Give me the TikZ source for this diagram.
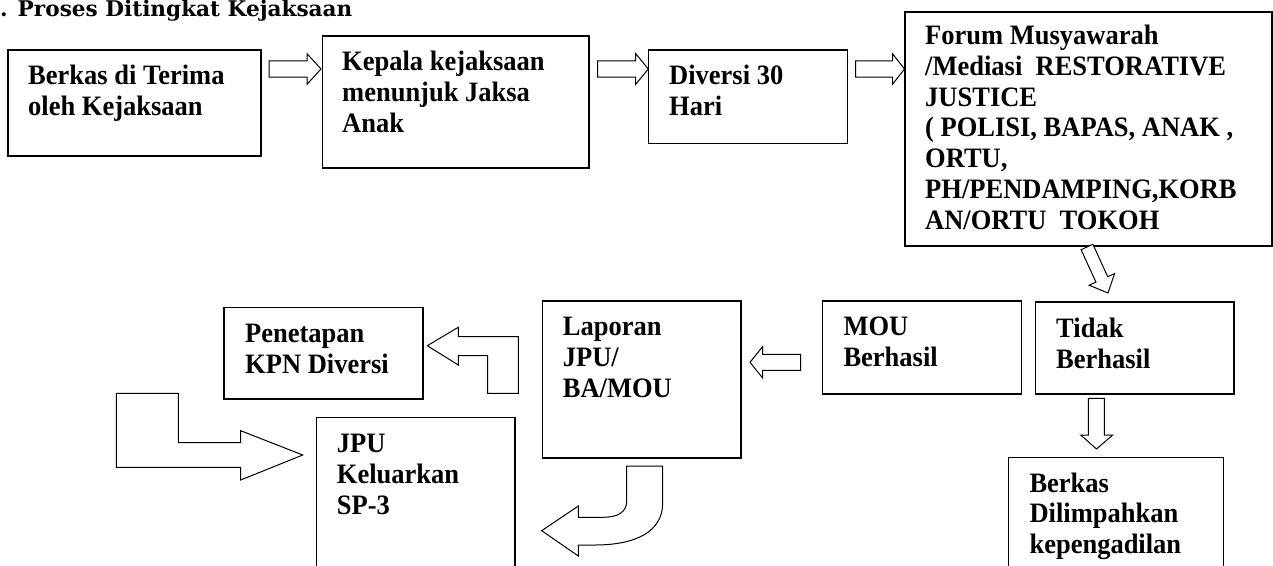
\documentclass[tikz,border=0pt]{standalone}
\usepackage{fontspec}
\setmainfont{Liberation Serif}
\newfontfamily\titlefont{DejaVu Serif}
\newcommand{\hblk}[6]{%
  \draw[blk] (#1,#4-#5) -- (#2,#4-#5) -- (#2,#4-#6) -- (#3,#4) -- (#2,#4+#6) -- (#2,#4+#5) -- (#1,#4+#5) -- cycle;}
\newcommand{\stx}[1]{\scalebox{1}[1.06]{\begin{tabular}[b]{@{}l@{}}#1\end{tabular}}}
\tikzset{
  box/.style={draw, line width=1.5pt, inner sep=0pt, anchor=north west},
  txt/.style={anchor=base west, inner sep=0pt, font=\fontsize{26.5}{29}\selectfont\bfseries},
  blk/.style={draw, line width=1pt, fill=white, line join=miter},
}
\begin{document}
\begin{tikzpicture}[x=1pt,y=-1pt]
\clip (0,0) rectangle (1273,565);
\fill[white] (0,0) rectangle (1273,565);
% title
\node[anchor=base west, inner sep=0pt] (title) at (0,16) {\titlefont\bfseries\fontsize{21.6}{24}\selectfont . Proses Ditingkat Kejaksaan};
% boxes
\node[box, minimum width=252.7pt, minimum height=106pt] (b1) at (7.3,49.3) {};
\node[box, minimum width=266.6pt, minimum height=132.3pt] (b2) at (321.7,35) {};
\node[box, minimum width=199pt, minimum height=93.7pt] (b3) at (647.7,49) {};
\node[box, minimum width=367pt, minimum height=234pt] (b4) at (904,11) {};
\node[box, minimum width=199pt, minimum height=93.3pt] (mou) at (821.7,300) {};
\node[box, minimum width=198.6pt, minimum height=92pt] (tidak) at (1034.7,301.3) {};
\node[box, minimum width=215pt, minimum height=143.3pt] (berkas) at (1007.7,456.7) {};
\node[box, minimum width=198.3pt, minimum height=157.3pt] (lap) at (541.7,300) {};
\node[box, minimum width=199pt, minimum height=91.6pt] (pen) at (223.3,306.7) {};
\node[box, minimum width=198.3pt, minimum height=183.3pt] (jpu) at (315.7,416.7) {};
% texts (anchor = baseline of last line)
\node[txt] (t1) at (28,115.7) {\stx{Berkas di Terima\\oleh Kejaksaan}};
\node[txt] (t2) at (342,132.4) {\stx{Kepala kejaksaan\\menunjuk Jaksa\\Anak}};
\node[txt] (t3) at (669,115) {\stx{Diversi 30\\Hari}};
\node[txt] (t4) at (925,229.2) {\stx{Forum Musyawarah\\/Mediasi\ \ RESTORATIVE\\JUSTICE\\( POLISI, BAPAS, ANAK ,\\ORTU,\\PH/PENDAMPING,KORB\\AN/ORTU\ \ TOKOH}};
\node[txt] (t5) at (843.3,366.7) {\stx{MOU\\Berhasil}};
\node[txt] (t6) at (1056,368) {\stx{Tidak\\Berhasil}};
\node[txt] (t7) at (1029.3,553.7) {\stx{Berkas\\Dilimpahkan\\kepengadilan}};
\node[txt] (t8) at (562.7,397.4) {\stx{Laporan\\JPU/\\BA/MOU}};
\node[txt] (t9) at (245,373.4) {\stx{Penetapan\\KPN Diversi}};
\node[txt] (t10) at (336.7,514.1) {\stx{JPU\\Keluarkan\\SP-3}};
% straight block arrows
\hblk{269}{307}{321}{69}{8.2}{15.3}
\hblk{597.7}{635.7}{648.3}{69}{8.2}{15.3}
\hblk{855.7}{892.5}{904.5}{69}{8.2}{15.3}
\hblk{800.7}{762.7}{750}{362.3}{8}{15.8}
% down arrow tidak -> berkas
\draw[blk] (1088.3,398.3) -- (1104.3,398.3) -- (1104.3,435) -- (1112.7,435) -- (1096.5,449) -- (1080.7,435) -- (1088.3,435) -- cycle;
% diagonal arrow forum -> tidak
\draw[blk] (1092.9,244.3) -- (1107.7,276.7) -- (1114.5,273.6) -- (1108,293) -- (1089.1,285.2) -- (1095.9,282.1) -- (1081.1,249.7) -- cycle;
% bent arrow laporan -> penetapan
\draw[blk] (427.3,345.7) -- (458.3,327.3) -- (458.3,336.7) -- (518.3,336.7) -- (518.3,393.3) -- (487.7,393.3) -- (487.7,355.7) -- (458.3,355.7) -- (458.3,365) -- cycle;
% big bent arrow -> jpu
\draw[blk] (116.3,393.3) -- (178.3,393.3) -- (178.3,442.7) -- (240.7,442.7) -- (240.7,430.7) -- (302.7,455) -- (240.7,480) -- (240.7,467.3) -- (116.3,467.3) -- cycle;
% u-turn arrow below laporan
\draw[blk] (626.7,466) -- (662.7,466) -- (662.7,503) .. controls (662.7,532) and (635,545) .. (595,545) -- (578.3,545) -- (578.3,556) -- (541.7,530.7) -- (578.3,506) -- (578.3,517.3) -- (603,517.3) .. controls (618,517.3) and (626.7,512) .. (626.7,501) -- cycle;
\end{tikzpicture}
\end{document}
